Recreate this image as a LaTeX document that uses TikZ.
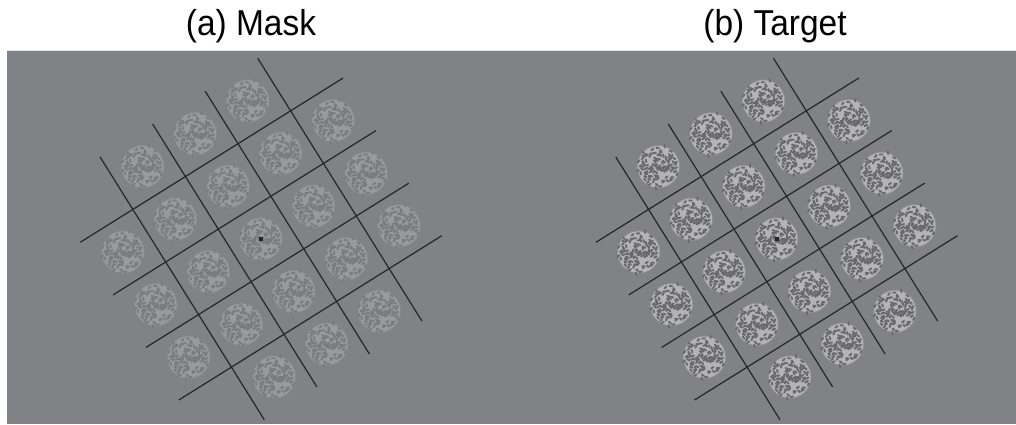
\documentclass[tikz,border=0pt]{standalone}
\usepackage{fontspec}
\setmainfont{Liberation Sans}
\definecolor{bg}{RGB}{129,130,134}
\definecolor{gridc}{RGB}{38,38,40}
\definecolor{masklight}{RGB}{153,154,157}
\definecolor{maskdark}{RGB}{122,123,127}
\definecolor{maskrim}{RGB}{136,137,141}
\definecolor{targetlight}{RGB}{180,180,183}
\definecolor{targetdark}{RGB}{104,104,109}
\definecolor{targetrim}{RGB}{140,140,144}
\tikzset{
  gridline/.style={draw=gridc, line width=1.2pt},
  title/.style={font=\fontsize{36}{42}\selectfont, anchor=base, inner sep=0pt},
  worm/.style={line width=1.9pt, line cap=round},
  fixdot/.style={fill=black!85}
}
\newcommand\myblob[3]{%
  \begin{scope}[shift={(#1,#2)}]
    \fill[#3rim] (0,0) circle (21.8);
    \fill[#3light] (0,0) circle (20.8);
    \pgfmathsetseed{2718}
    \foreach \ii in {-8,...,8}{\foreach \jj in {-8,...,8}{%
      \pgfmathsetmacro\rr{rnd}%
      \pgfmathsetmacro\aa{360*rnd}%
      \pgfmathtruncatemacro\ok{((\ii*\ii+\jj*\jj<=62)&&(\rr<0.45))?1:0}%
      \ifnum\ok=1 \draw[#3dark, worm] (2.6*\ii,2.6*\jj) -- ++(\aa:2.6);\fi
    }}
  \end{scope}}
\newcommand\mypanel[3]{% center x, center y, colour prefix
  \begin{scope}[shift={(#1,#2)}, rotate=32]
    \foreach \i in {-2,...,2}{\foreach \j in {-2,...,2}{%
      \pgfmathtruncatemacro\corner{\i*\i*\j*\j}%
      \ifnum\corner<16 \myblob{62*\i}{62*\j}{#3}\fi
    }}
    \foreach \k in {-93,-31,31,93}{
      \draw[gridline] (\k,-155) -- (\k,155);
      \draw[gridline] (-155,\k) -- (155,\k);
    }
  \end{scope}
  \fill[fixdot] (#1-2.2,#2-2.2) rectangle (#1+2.2,#2+2.2);
}
\begin{document}
\begin{tikzpicture}[x=1pt,y=1pt]
\useasboundingbox (0,0) rectangle (1016,424);
\fill[bg] (7,0) rectangle (1016,373.7);
\draw[white!75!bg, line width=0.8pt] (7,373.3) -- (1016,373.3);
\node[title] (ta) at (251,388) {\scalebox{0.93}[1]{(a) Mask}};
\node[title] (tb) at (775,388) {\scalebox{0.93}[1]{(b) Target}};
\mypanel{261}{185}{mask}
\mypanel{776.7}{185}{target}
\end{tikzpicture}
\end{document}
